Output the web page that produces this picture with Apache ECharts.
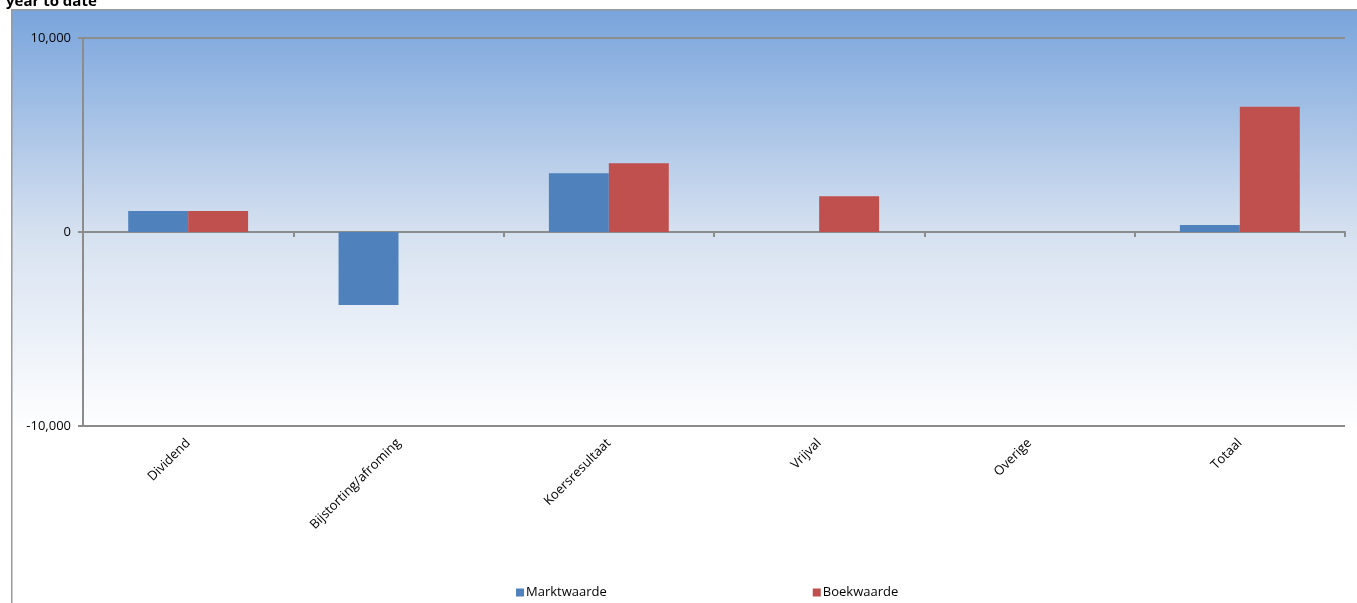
<!DOCTYPE html>
<html lang="nl">
<head>
    <meta charset="UTF-8">
    <title>year to date</title>
    <script src="https://cdn.jsdelivr.net/npm/echarts@6/dist/echarts.min.js"></script>
    <style>
        html, body { margin: 0; padding: 0; background: #fff; }
        #main { width: 1357px; height: 603px; }
    </style>
</head>
<body>
    <div id="main"></div>
    <script>
        // data
        var categories = ['Dividend', 'Bijstorting/afroming', 'Koersresultaat', 'Vrijval', 'Overige', 'Totaal'];
        var marktwaarde = [1080, -3760, 3030, 0, 0, 360];
        var boekwaarde = [1080, 0, 3540, 1840, 0, 6460];
        var yTicks = [-10000, 0, 10000];

        var font = '"Open Sans", Lato, sans-serif';
        var gray = '#8c8c8c';

        var myChart = echarts.init(document.getElementById('main'));
        var option = {
            animation: false,
            textStyle: { fontFamily: font },
            title: {
                text: 'year to date',
                left: 1,
                top: -11,
                textStyle: { fontFamily: font, fontSize: 15, fontWeight: 'bold', color: '#000' }
            },
            graphic: [{
                type: 'rect',
                left: 11,
                top: 9,
                z: -10,
                shape: { width: 1400, height: 620 },
                style: {
                    stroke: '#9a9a9a',
                    lineWidth: 1.5,
                    fill: {
                        type: 'linear', x: 0, y: 0, x2: 0, y2: 1,
                        colorStops: [
                            { offset: 0, color: '#78a4dc' },
                            { offset: 0.36, color: '#d6e1f0' },
                            { offset: 0.68, color: '#ffffff' },
                            { offset: 1, color: '#ffffff' }
                        ]
                    }
                }
            }],
            legend: {
                left: 511,
                top: 581,
                icon: 'rect',
                itemWidth: 8,
                itemHeight: 8,
                itemGap: 206,
                textStyle: { fontFamily: font, fontSize: 13, color: '#000', padding: [0, 0, 0, -3] },
                data: ['Marktwaarde', 'Boekwaarde']
            },
            grid: { left: 83, right: 12, top: 38, bottom: 177, containLabel: false, outerBoundsMode: 'none' },
            xAxis: {
                type: 'category',
                data: categories,
                axisLine: { onZero: true, lineStyle: { color: gray, width: 2 } },
                axisTick: { show: true, length: 5, lineStyle: { color: gray, width: 2 } },
                axisLabel: {
                    rotate: 45,
                    margin: 15,
                    interval: 0,
                    color: '#000',
                    fontSize: 13,
                    fontFamily: font
                }
            },
            yAxis: {
                type: 'value',
                min: yTicks[0],
                max: yTicks[yTicks.length - 1],
                interval: 10000,
                axisLine: { show: true, lineStyle: { color: gray, width: 2 } },
                axisTick: { show: true, length: 5, lineStyle: { color: gray, width: 2 } },
                splitLine: { show: true, lineStyle: { color: gray, width: 2 } },
                axisLabel: {
                    margin: 12,
                    color: '#000',
                    fontSize: 13,
                    fontFamily: font,
                    formatter: function (v) { return v.toLocaleString('en-US'); }
                }
            },
            series: [{
                name: 'Marktwaarde',
                type: 'bar',
                data: marktwaarde,
                barGap: '0%',
                barCategoryGap: '43%',
                itemStyle: { color: '#4f81bd' }
            }, {
                name: 'Boekwaarde',
                type: 'bar',
                data: boekwaarde,
                barGap: '0%',
                barCategoryGap: '43%',
                itemStyle: { color: '#c0504d' }
            }]
        };
        myChart.setOption(option);
    </script>
</body>
</html>
